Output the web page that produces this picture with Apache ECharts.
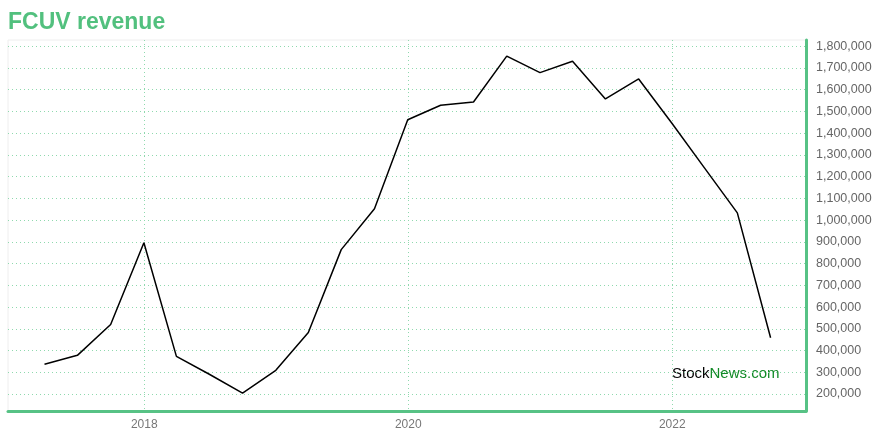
<!DOCTYPE html>
<html><head><meta charset="utf-8">
<script src="https://cdn.jsdelivr.net/npm/echarts@6/dist/echarts.min.js"></script>
<style>html,body{margin:0;padding:0;background:#fff}#c{width:880px;height:440px}</style>
</head><body><div id="c"></div>
<script>
const titleText = 'FCUV revenue';
const dates = ['2017-03-31','2017-06-30','2017-09-30','2017-12-31','2018-03-31','2018-06-30','2018-09-30','2018-12-31',
  '2019-03-31','2019-06-30','2019-09-30','2019-12-31','2020-03-31','2020-06-30','2020-09-30','2020-12-31',
  '2021-03-31','2021-06-30','2021-09-30','2021-12-31','2022-03-31','2022-06-30','2022-09-30'];
const revenue = [337000, 378000, 520000, 896000, 373000, 291000, 204000, 309000,
  483000, 864000, 1052000, 1461000, 1528000, 1543000, 1754000, 1678000,
  1730000, 1557000, 1649000, 1445000, 1240000, 1033000, 459000];
const xRange = ['2016-12-20', '2023-01-06'];
const yRange = [122000, 1828000];
const yStep = 100000;

const DAY = 86400000;
const TWO_YEARS = 2 * 365.25 * DAY;
const ts = s => Date.parse(s + 'T00:00:00Z');
const green = '#57c285';
const gridGreen = '#8fd9ae';
const font = '"Liberation Sans", Arial, Helvetica, sans-serif';

const chart = echarts.init(document.getElementById('c'), null, {renderer: 'canvas'});
chart.setOption({
  animation: false,
  backgroundColor: '#fff',
  textStyle: {fontFamily: font},
  grid: {left: 8, right: 74, top: 40, bottom: 29, show: true, borderColor: '#eeeeee', borderWidth: 1, backgroundColor: 'transparent'},
  xAxis: {
    type: 'value',
    min: ts(xRange[0]), max: ts(xRange[1]),
    minInterval: TWO_YEARS, maxInterval: TWO_YEARS,
    axisLine: {show: true, onZero: false, lineStyle: {color: green, width: 3}},
    axisTick: {show: false},
    splitLine: {show: true, showMinLine: false, showMaxLine: false, lineStyle: {type: [1, 3], color: gridGreen, width: 1}},
    axisLabel: {
      showMinLabel: false, showMaxLabel: false, margin: 8,
      color: '#777', fontSize: 12, fontFamily: font,
      formatter: v => String(new Date(v).getUTCFullYear())
    }
  },
  yAxis: {
    type: 'value', position: 'right',
    min: yRange[0], max: yRange[1],
    minInterval: yStep, maxInterval: yStep,
    axisLine: {show: true, onZero: false, lineStyle: {color: green, width: 3}},
    axisTick: {show: false},
    splitLine: {show: true, showMinLine: false, showMaxLine: false, lineStyle: {type: [1, 3], color: gridGreen, width: 1}},
    axisLabel: {
      showMinLabel: false, showMaxLabel: false, margin: 10,
      color: '#666', fontSize: 12.5, fontFamily: font,
      formatter: v => (Math.round(v) % yStep === 0 ? Math.round(v).toLocaleString('en-US') : '')
    }
  },
  graphic: [
    {type: 'text', left: 8, top: 11, style: {text: titleText, font: 'bold 23px ' + font, fill: '#52c07e'}},
    {type: 'text', style: {x: 672, y: 374, textVerticalAlign: 'middle',
      text: '{a|Stock}{b|News.com}',
      rich: {a: {fill: '#000', fontSize: 15, fontFamily: font}, b: {fill: '#118a26', fontSize: 15, fontFamily: font}}}}
  ],
  series: [{
    type: 'line',
    data: dates.map((d, i) => [ts(d), revenue[i]]),
    showSymbol: false, symbol: 'none',
    lineStyle: {color: '#000', width: 1.5},
    z: 5
  }]
});
</script>
</body></html>
